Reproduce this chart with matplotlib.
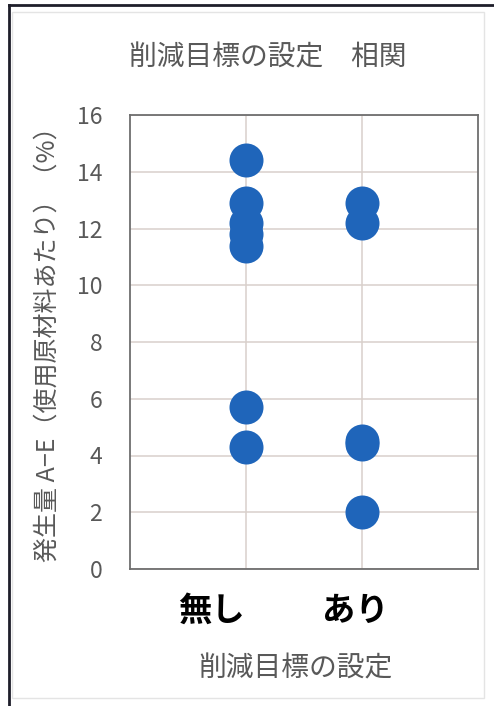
import matplotlib
matplotlib.use("Agg")
from matplotlib import pyplot as plt
from matplotlib.lines import Line2D
from matplotlib.patches import Rectangle

plt.rcParams['font.family'] = ['Noto Sans CJK JP', 'DejaVu Sans']

# data
categories = ['無し', 'あり']
cat_pos = [1, 2]
values_nashi = [14.4, 12.9, 12.2, 11.8, 11.4, 5.7, 4.3]
values_ari = [12.9, 12.2, 4.5, 4.4, 2.0]
y_ticks = [0, 2, 4, 6, 8, 10, 12, 14, 16]

title = '削減目標の設定\u3000相関'
xlabel = '削減目標の設定'
ylabel = '発生量 A−E（使用原材料あたり）（%）'

dot_color = '#1F65BA'
text_gray = '#595959'
grid_color = '#D9D0CB'

W, H = 494, 706
fig = plt.figure(figsize=(W / 100, H / 100), dpi=100)
fig.patch.set_facecolor('white')

ax = fig.add_axes([130 / W, 1 - 569 / H, 348 / W, 454 / H])

ax.scatter([cat_pos[0]] * len(values_nashi), values_nashi, s=600, color=dot_color,
           linewidths=0, zorder=3)
ax.scatter([cat_pos[1]] * len(values_ari), values_ari, s=600, color=dot_color,
           linewidths=0, zorder=3)

ax.set_xlim(0, 3)
ax.set_ylim(0, 16)
ax.set_yticks(y_ticks)
ax.set_xticks(cat_pos)
ax.set_xticklabels([])
ax.grid(True, color=grid_color, linewidth=1.1, zorder=0)
ax.tick_params(axis='both', length=0)
ax.tick_params(axis='y', pad=20, labelsize=16.5, labelcolor=text_gray)
for sp in ax.spines.values():
    sp.set_color('#6E6E6E')
    sp.set_linewidth(1.3)

# category labels (text boxes sit slightly left of the points in the original)
label_x = [0.70, 1.94]
for lx, name in zip(label_x, categories):
    ax.text(lx, -1.5, name, ha='center', va='center', fontsize=24,
            fontweight='bold', color='black')

fig.text(268 / W, 1 - 57 / H, title, ha='center', va='center', fontsize=20,
         color=text_gray)
fig.text(295 / W, 1 - 668 / H, xlabel, ha='center', va='center', fontsize=20,
         color=text_gray)
fig.text(48 / W, 1 - 338 / H, ylabel, ha='center', va='center', fontsize=18,
         color=text_gray, rotation=90)

# chart frame
fig.add_artist(Rectangle((12 / W, 8 / H), 472 / W, 686 / H, transform=fig.transFigure,
                         fill=False, edgecolor='#E4E4E4', linewidth=1))
fig.add_artist(Line2D([9 / W, 9 / W], [0, 1 - 5 / H], transform=fig.transFigure,
                      color='#1E1E2A', linewidth=2))
fig.add_artist(Line2D([9 / W, 1], [1 - 5 / H, 1 - 5 / H], transform=fig.transFigure,
                      color='#1E1E2A', linewidth=2))

fig.savefig('out.png', dpi=100)
